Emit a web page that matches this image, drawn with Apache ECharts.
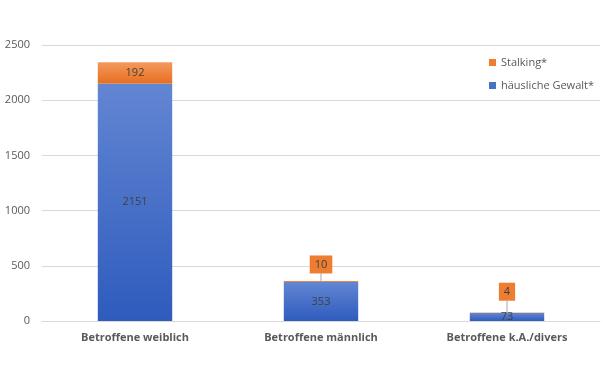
<!DOCTYPE html>
<html><head><meta charset="utf-8">
<script src="https://cdn.jsdelivr.net/npm/echarts@6/dist/echarts.min.js"></script>
<style>html,body{margin:0;padding:0;background:#fff}#c{width:605px;height:373px}</style>
</head><body><div id="c"></div>
<script>
var categories = ['Betroffene weiblich', 'Betroffene männlich', 'Betroffene k.A./divers'];
var haeuslicheGewalt = [2151, 353, 73];
var stalking = [192, 10, 4];
var yTicks = [0, 500, 1000, 1500, 2000, 2500];

var chart = echarts.init(document.getElementById('c'));
var font = '"Open Sans", "Liberation Sans", sans-serif';
var blueGrad = new echarts.graphic.LinearGradient(0, 0, 0, 1, [{offset: 0, color: '#6386d3'}, {offset: 1, color: '#2e5bbd'}]);
var orangeGrad = new echarts.graphic.LinearGradient(0, 0, 0, 1, [{offset: 0, color: '#f39a5e'}, {offset: 1, color: '#e86e1e'}]);

var stalkingData = stalking.map(function (v, i) {
  if (i === 0) return {value: v};
  return {
    value: v,
    label: {backgroundColor: '#ED7D31', padding: [4, 5, 3, 5]},
    labelLine: {show: true}
  };
});

chart.setOption({
  animation: false,
  textStyle: {fontFamily: font},
  grid: {left: 42, right: 5, top: 45, bottom: 52},
  legend: {
    orient: 'vertical', left: 484, top: 52, itemWidth: 7, itemHeight: 7, itemGap: 12,
    icon: 'rect',
    textStyle: {color: '#595959', fontSize: 11, fontFamily: font},
    data: [{name: 'Stalking*', itemStyle: {color: '#ED7D31'}}, {name: 'häusliche Gewalt*', itemStyle: {color: '#4472C4'}}]
  },
  xAxis: {
    type: 'category', data: categories,
    axisLine: {show: true, lineStyle: {color: '#d9d9d9'}},
    axisTick: {show: false},
    axisLabel: {color: '#595959', fontSize: 11, fontWeight: 'bold', margin: 11, fontFamily: font}
  },
  yAxis: {
    type: 'value', min: yTicks[0], max: yTicks[yTicks.length - 1], interval: 500,
    axisLine: {show: false}, axisTick: {show: false},
    splitLine: {lineStyle: {color: '#d9d9d9'}},
    axisLabel: {color: '#595959', fontSize: 11, margin: 12, fontFamily: font,
      formatter: function (v) { return String(v); }}
  },
  series: [
    {
      name: 'häusliche Gewalt*', type: 'bar', stack: 's', barWidth: '40%',
      data: haeuslicheGewalt,
      itemStyle: {color: blueGrad},
      label: {show: true, position: 'inside', color: '#404040', fontSize: 11, fontFamily: font}
    },
    {
      name: 'Stalking*', type: 'bar', stack: 's', barWidth: '40%',
      data: stalkingData,
      itemStyle: {color: orangeGrad},
      label: {show: true, position: 'inside', color: '#404040', fontSize: 11, fontFamily: font},
      labelLine: {show: false, lineStyle: {color: '#a6a6a6', width: 1}},
      labelLayout: function (p) {
        if (p.dataIndex === 0) return {};
        return {dy: p.dataIndex === 1 ? -17 : -21};
      }
    }
  ]
});
</script></body></html>
